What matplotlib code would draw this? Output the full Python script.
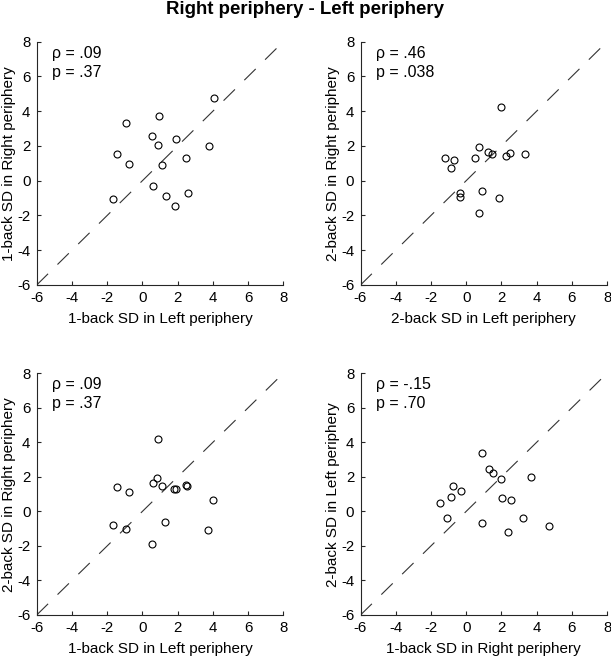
import matplotlib
matplotlib.use("Agg")
import matplotlib.pyplot as plt

plt.rcParams['font.family'] = ['Liberation Sans', 'DejaVu Sans']
plt.rcParams['lines.scale_dashes'] = False

title = "Right periphery - Left periphery"

# Panel data
p1_x = [4.06, 0.94, -0.95, 0.56, 1.90, 0.86, 3.77, -1.46, 2.49, -0.75, 1.13, 0.62, 2.60, 1.32, -1.65, 1.83]
p1_y = [4.78, 3.72, 3.32, 2.57, 2.42, 2.06, 2.02, 1.54, 1.31, 0.94, 0.90, -0.28, -0.73, -0.86, -1.07, -1.44]

p2_x = [-1.22, -0.67, -0.84, -0.37, -0.37, 0.50, 0.75, 1.24, 1.49, 0.88, 0.71, 2.00, 1.88, 2.26, 2.47, 3.36]
p2_y = [1.32, 1.17, 0.71, -0.73, -0.92, 1.32, 1.96, 1.65, 1.54, -0.61, -1.88, 4.26, -1.02, 1.44, 1.59, 1.55]

p3_x = [0.90, 0.84, 0.58, 1.09, -1.46, -0.75, 1.81, 1.88, 2.45, 2.56, 4.00, -1.65, -0.95, 1.30, 3.74, 0.56]
p3_y = [4.22, 1.94, 1.62, 1.48, 1.40, 1.11, 1.29, 1.29, 1.54, 1.50, 0.65, -0.78, -0.99, -0.64, -1.05, -1.91]

p4_x = [0.88, 1.28, 1.52, 1.98, 3.69, -0.74, -0.32, -0.87, -1.46, 2.02, 2.53, -1.06, 0.92, 3.25, 2.36, 4.71]
p4_y = [3.37, 2.46, 2.25, 1.89, 2.00, 1.48, 1.21, 0.86, 0.50, 0.75, 0.69, -0.41, -0.68, -0.39, -1.22, -0.87]

xlabels = ["1-back SD in Left periphery", "2-back SD in Left periphery",
           "1-back SD in Left periphery", "1-back SD in Right periphery"]
ylabels = ["1-back SD in Right periphery", "2-back SD in Right periphery",
           "2-back SD in Right periphery", "2-back SD in Left periphery"]
rho_labels = ["ρ = .09", "ρ = .46", "ρ = .09", "ρ = -.15"]
p_labels = ["p = .37", "p = .038", "p = .37", "p = .70"]

lim = (-6, 8)
ticks = [-6, -4, -2, 0, 2, 4, 6, 8]

W, H = 611, 657
fig = plt.figure(figsize=(W / 100, H / 100), dpi=100)

# axes rects in pixels: left, top, right, bottom
rects = [
    (36.7, 41.7, 283.3, 285.0),
    (360.5, 41.7, 607.0, 285.0),
    (36.7, 373.3, 283.3, 615.0),
    (360.5, 373.3, 607.0, 615.0),
]
data = [(p1_x, p1_y), (p2_x, p2_y), (p3_x, p3_y), (p4_x, p4_y)]

spine_col = '#262626'
for i, (l, t, r, b) in enumerate(rects):
    ax = fig.add_axes([l / W, 1 - b / H, (r - l) / W, (b - t) / H])
    x, y = data[i]
    ax.plot(lim, lim, color='#333333', lw=0.8, linestyle=(0, (11.5, 9.5)))
    ax.plot(x, y, linestyle='none', marker='o', markersize=5.0,
            markerfacecolor='none', markeredgecolor='black', markeredgewidth=0.8)
    ax.set_xlim(lim)
    ax.set_ylim(lim)
    ax.set_xticks(ticks)
    ax.set_yticks(ticks)
    ax.set_xticklabels([str(v) for v in ticks])
    ax.set_yticklabels([str(v) for v in ticks])
    for s in ['top', 'right']:
        ax.spines[s].set_visible(False)
    for s in ['left', 'bottom']:
        ax.spines[s].set_color(spine_col)
        ax.spines[s].set_linewidth(0.8)
    ax.tick_params(direction='in', length=3, width=0.8, color=spine_col,
                   labelsize=10.8, labelcolor='black', pad=4.5)
    ax.set_xlabel(xlabels[i], fontsize=11, labelpad=4.5)
    ax.set_ylabel(ylabels[i], fontsize=11, labelpad=1)
    ax.text(0.061, 0.952, rho_labels[i], transform=ax.transAxes,
            fontsize=11.5, va='center', ha='left')
    ax.text(0.061, 0.874, p_labels[i], transform=ax.transAxes,
            fontsize=11.5, va='center', ha='left')

fig.text(0.5, 1 - 10 / H, title, ha='center', va='center',
         fontsize=13.4, fontweight='bold')

fig.savefig("out.png", dpi=100)
